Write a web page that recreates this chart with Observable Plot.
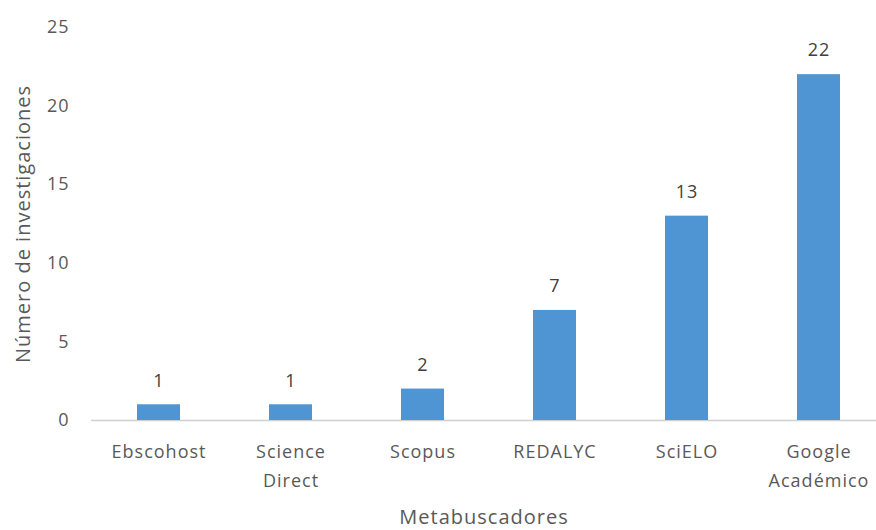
<!DOCTYPE html>
<html>
<head>
<meta charset="utf-8">
<script src="https://cdn.jsdelivr.net/npm/d3@7"></script>
<script src="https://cdn.jsdelivr.net/npm/@observablehq/plot@0.6"></script>
<style>
  html, body { margin: 0; padding: 0; background: #fff; overflow: hidden; }
  #chart svg { overflow: visible; }
  #chart svg text { letter-spacing: 1px; }
</style>
</head>
<body>
<div id="chart"></div>
<script>
const categories = ["Ebscohost", "Science\nDirect", "Scopus", "REDALYC", "SciELO", "Google\nAcadémico"];
const values = [1, 1, 2, 7, 13, 22];
const yTicks = [0, 5, 10, 15, 20, 25];

const data = categories.map((c, i) => ({cat: c, value: values[i]}));
const font = "'Open Sans', sans-serif";
const textColor = "#595959";

const chart = Plot.plot({
  width: 876,
  height: 530,
  marginTop: 27,
  marginBottom: 110,
  marginLeft: 91,
  marginRight: 0,
  style: {fontFamily: font, fontSize: "18px", color: textColor, background: "#fff"},
  x: {domain: categories, range: [91, 886], paddingInner: 0.675, paddingOuter: 0.3375, align: 0.5},
  y: {domain: [0, 25]},
  marks: [
    Plot.ruleY([0], {stroke: "#d0d0d0", strokeWidth: 1.5}),
    Plot.barY(data, {x: "cat", y: "value", fill: "#4f95d4"}),
    Plot.text(data, {x: "cat", y: "value", text: d => String(d.value), dy: -24, fill: "#404040", fontSize: 18}),
    Plot.axisY({ticks: yTicks, tickSize: 0, tickPadding: 22, fontSize: 18, label: null}),
    Plot.axisY({ticks: [], tickSize: 0, fontSize: 20, label: "Número de investigaciones", labelAnchor: "center", labelArrow: "none", labelOffset: 76}),
    Plot.axisX({tickSize: 0, tickPadding: 17, fontSize: 18, lineHeight: 1.6, label: null}),
    Plot.axisX({ticks: [], tickSize: 0, fontSize: 20, label: "Metabuscadores", labelAnchor: "center", labelArrow: "none", labelOffset: 103})
  ]
});
document.getElementById("chart").appendChild(chart);
</script>
</body>
</html>
